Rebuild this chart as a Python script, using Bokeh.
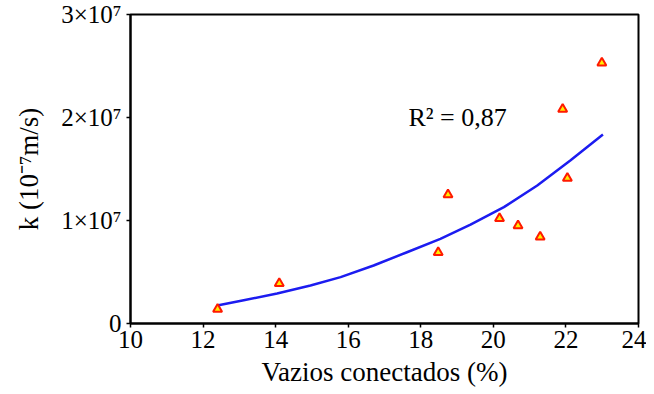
from bokeh.plotting import figure
from bokeh.models import Range1d, FixedTicker, Label
from bokeh.embed import file_html
from bokeh.resources import INLINE

# scatter data
vazios = [12.4, 14.1, 18.48, 18.75, 20.17, 20.68, 21.29, 21.91, 22.04, 22.99]
k_vals = [1.4e6, 3.9e6, 6.9e6, 12.5e6, 10.2e6, 9.5e6, 8.4e6, 20.8e6, 14.1e6, 25.3e6]

# trend curve
curve_x = [12.39, 13.12, 14.04, 14.96, 15.79, 16.70, 17.62, 18.54, 19.37, 20.29, 21.21, 22.12, 23.02]
curve_y = [1.75e6, 2.25e6, 2.92e6, 3.69e6, 4.50e6, 5.63e6, 6.92e6, 8.22e6, 9.60e6, 11.30e6, 13.40e6, 15.83e6, 18.35e6]

x_ticks = [10, 12, 14, 16, 18, 20, 22, 24]
y_ticks = [0, 10000000, 20000000, 30000000]
y_tick_labels = ["0", "1×10⁷", "2×10⁷", "3×10⁷"]

r2_text = "R² = 0,87"
x_label = "Vazios conectados (%)"
y_label = "k (10⁻⁷m/s)"

FONT = "Liberation Serif"

p = figure(width=646, height=386, output_backend="svg", toolbar_location=None,
           x_range=Range1d(10, 24), y_range=Range1d(0, 3e7),
           frame_width=508, frame_height=309,
           min_border_left=130, min_border_right=8, min_border_top=14, min_border_bottom=63)
p.xgrid.visible = False
p.ygrid.visible = False
p.outline_line_color = "black"
p.outline_line_width = 2
p.background_fill_color = "white"
p.border_fill_color = "white"

for ax in (p.xaxis[0], p.yaxis[0]):
    ax.axis_line_width = 2
    ax.axis_line_color = "black"
    ax.major_tick_line_width = 1.5
    ax.major_tick_in = 0
    ax.major_tick_out = 4
    ax.minor_tick_line_color = None
    ax.major_label_text_font = FONT
    ax.major_label_text_font_size = "25px"
    ax.major_label_text_color = "black"
    ax.axis_label_text_font = FONT
    ax.axis_label_text_font_size = "27px"
    ax.axis_label_text_font_style = "normal"
    ax.axis_label_text_color = "black"

p.xaxis.ticker = FixedTicker(ticks=x_ticks)
p.yaxis.ticker = FixedTicker(ticks=y_ticks)
p.yaxis.major_label_overrides = {t: l for t, l in zip(y_ticks, y_tick_labels)}
p.xaxis.major_label_standoff = 3
p.yaxis.major_label_standoff = 5
p.xaxis.axis_label = x_label
p.yaxis.axis_label = y_label
p.xaxis.axis_label_standoff = 6
p.yaxis.axis_label_standoff = 14

p.line(curve_x, curve_y, line_color="#1c1cf0", line_width=2.5, line_join="round")
p.scatter(vazios, k_vals, marker="triangle", size=9, fill_color="#ffee00",
          line_color="#ff1a00", line_width=2)

p.add_layout(Label(x=17.66, y=2.0e7, text=r2_text, text_font=FONT,
                   text_font_size="26px", text_baseline="middle", text_color="black"))

open("out.html", "w").write(file_html(p, INLINE))
